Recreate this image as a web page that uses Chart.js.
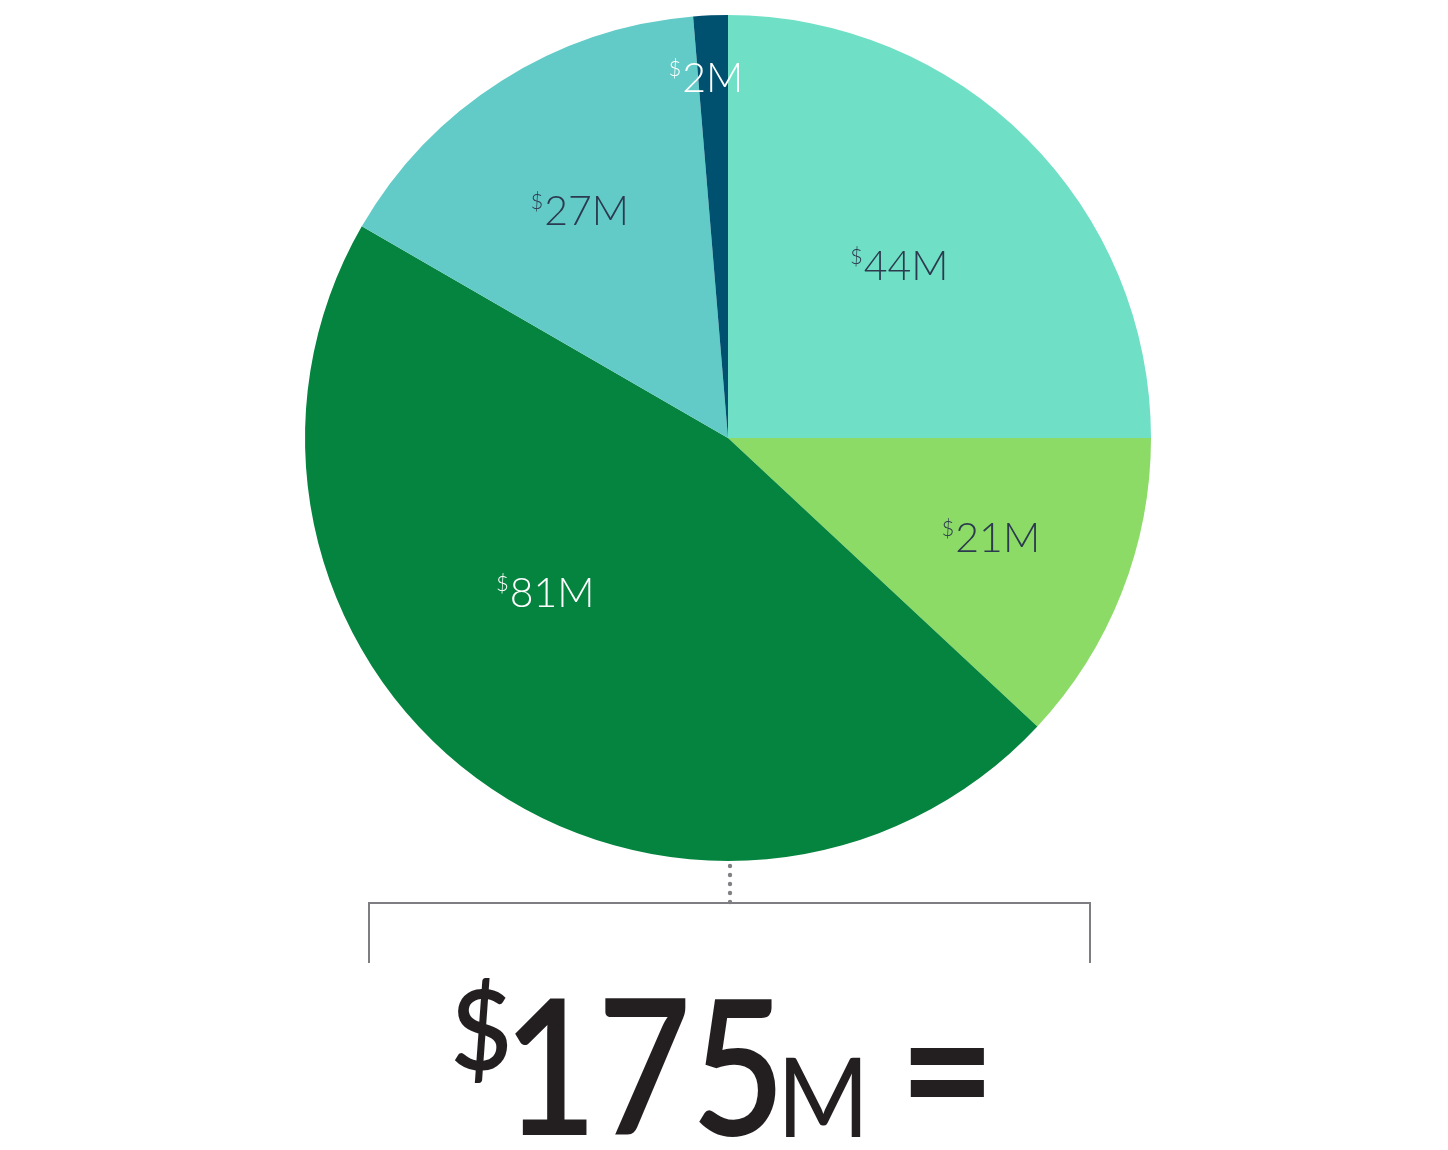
<!DOCTYPE html>
<html>
<head>
<meta charset="utf-8">
<script src="https://cdn.jsdelivr.net/npm/chart.js@4.4.1/dist/chart.umd.min.js"></script>
<style>
  html, body { margin: 0; padding: 0; background: #ffffff; }
  #wrap { position: relative; width: 1448px; height: 1150px; }
</style>
</head>
<body>
<div id="wrap"><canvas id="c"></canvas></div>
<script>
// ---- data ----
const categories = ['Slice A', 'Slice B', 'Slice C', 'Slice D', 'Slice E'];
const values = [43.75, 20.9, 81.2, 26.85, 2.3];          // $ millions (labels show rounded values)
const sliceColors = ['#6fe0c5', '#8bdb66', '#05843f', '#63cbc7', '#005170'];
const labelColors = ['#2c3a4f', '#2c3a4f', '#ffffff', '#2c3a4f', '#ffffff'];

const total = Math.round(values.reduce((a, b) => a + b, 0));

// label placement inside each slice: [fraction along the arc angle, fraction of radius]
const labelPlacement = [[0.497, 0.575], [0.48, 0.664], [0.58, 0.565], [0.488, 0.643], [0.26, 0.855]];

function drawFit(ctx, text, font, x0, y0, x1, y1) {
  ctx.save();
  ctx.font = font;
  ctx.textAlign = 'left';
  ctx.textBaseline = 'alphabetic';
  const m = ctx.measureText(text);
  const w = m.actualBoundingBoxLeft + m.actualBoundingBoxRight;
  const h = m.actualBoundingBoxAscent + m.actualBoundingBoxDescent;
  const sx = (x1 - x0) / w, sy = (y1 - y0) / h;
  ctx.translate(x0 + m.actualBoundingBoxLeft * sx, y0 + m.actualBoundingBoxAscent * sy);
  ctx.scale(sx, sy);
  ctx.fillText(text, 0, 0);
  ctx.restore();
}

const overlay = {
  id: 'overlay',
  afterDraw(chart) {
    const ctx = chart.ctx;
    const meta = chart.getDatasetMeta(0);
    // slice labels
    meta.data.forEach((arc, i) => {
      const p = arc.getProps(['x', 'y', 'startAngle', 'endAngle', 'outerRadius'], true);
      const [t, f] = labelPlacement[i];
      const a = p.startAngle + t * (p.endAngle - p.startAngle);
      const px = p.x + Math.cos(a) * p.outerRadius * f;
      const py = p.y + Math.sin(a) * p.outerRadius * f;
      const numText = Math.round(values[i]) + 'M';
      ctx.save();
      ctx.fillStyle = labelColors[i];
      ctx.textBaseline = 'alphabetic';
      ctx.textAlign = 'left';
      ctx.font = '300 22px Lato';
      const wd = ctx.measureText('$').width;
      ctx.font = '300 41px Lato';
      const wn = ctx.measureText(numText).width;
      const tw = wd + 1 + wn;
      const x0 = px - tw / 2;
      const base = py + 15;
      ctx.font = '300 22px Lato';
      ctx.fillText('$', x0, base - 16);
      ctx.font = '300 41px Lato';
      ctx.fillText(numText, x0 + wd + 1, base);
      ctx.restore();
    });

    // connector + bracket
    const c = meta.data[0].getProps(['x', 'y', 'outerRadius'], true);
    const cx = c.x + 2;
    const bottom = c.y + c.outerRadius;
    ctx.save();
    ctx.fillStyle = '#808085';
    for (let y = bottom + 5; y <= 903; y += 9) {
      ctx.beginPath();
      ctx.arc(cx, y, 2.2, 0, Math.PI * 2);
      ctx.fill();
    }
    ctx.strokeStyle = '#7d7d82';
    ctx.lineWidth = 2;
    ctx.beginPath();
    ctx.moveTo(369, 963);
    ctx.lineTo(369, 903);
    ctx.lineTo(1090, 903);
    ctx.lineTo(1090, 963);
    ctx.stroke();
    ctx.restore();

    // total
    ctx.save();
    ctx.fillStyle = '#231f20';
    drawFit(ctx, '$', '600 120px Lato', 454, 978, 508, 1083);
    drawFit(ctx, String(total), '600 195px Lato', 515, 999, 776, 1137);
    drawFit(ctx, 'M', '400 110px Lato', 786, 1057, 861, 1137);
    drawFit(ctx, '=', '700 110px Lato', 910, 1047, 985, 1097);
    ctx.restore();
  }
};

new Chart(document.getElementById('c'), {
  type: 'pie',
  data: {
    labels: categories,
    datasets: [{
      data: values,
      backgroundColor: sliceColors,
      borderWidth: 0
    }]
  },
  options: {
    responsive: true,
    maintainAspectRatio: false,
    animation: false,
    layout: { padding: { left: 305, right: 297, top: 15, bottom: 289 } },
    plugins: { legend: { display: false }, tooltip: { enabled: false } }
  },
  plugins: [overlay]
});
</script>
</body>
</html>
